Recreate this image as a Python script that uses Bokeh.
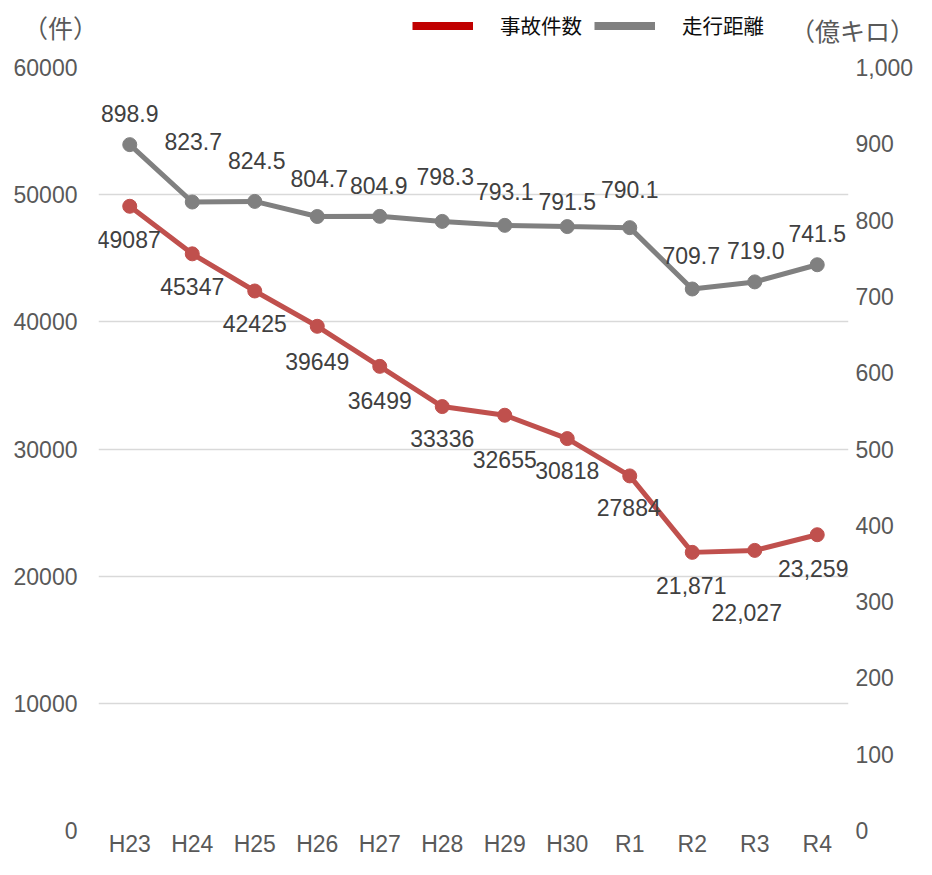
from bokeh.plotting import figure
from bokeh.layouts import column, row
from bokeh.models import (Range1d, LinearAxis, FixedTicker, NumeralTickFormatter,
                          Legend, LegendItem, ColumnDataSource)
from bokeh.core.properties import value
from bokeh.embed import file_html
from bokeh.resources import INLINE

# ---- data ----
categories = ["H23", "H24", "H25", "H26", "H27", "H28", "H29", "H30", "R1", "R2", "R3", "R4"]
accidents = [49087, 45347, 42425, 39649, 36499, 33336, 32655, 30818, 27884, 21871, 22027, 23259]
distance = [898.9, 823.7, 824.5, 804.7, 804.9, 798.3, 793.1, 791.5, 790.1, 709.7, 719.0, 741.5]
left_ticks = [0, 10000, 20000, 30000, 40000, 50000, 60000]
right_ticks = [0, 100, 200, 300, 400, 500, 600, 700, 800, 900, 1000]
series_names = ["事故件数", "走行距離"]
unit_left = "（件）"
unit_right = "（億キロ）"

# ---- label placement (style, px offsets) ----
acc_dx = [-1, 0, 0, 0, 0, 0, 0, 0, -1, -1, -8, -4]
acc_dy = [33, 33, 33, 35, 34, 32, 44, 32, 32, 33, 62, 34]
dist_dx = [0, 1, 2, 2, -1, 3, 0, 0, 0, -1, 1, 0]
dist_dy = [-31, -61, -41, -38, -31, -45, -34, -25, -38, -33, -31, -31]

RED = "#C0504D"
RED_LEG = "#C00000"
GRAY = "#808080"
TICK = "#595959"
LBL = "#404040"
FONT = "Liberation Sans"
CJK = "Noto Sans CJK JP"

W = 916
HEAD_H = 53

xs = list(range(len(categories)))
acc_text = [f"{v:,}" if i >= 9 else str(v) for i, v in enumerate(accidents)]
dist_text = [f"{v:.1f}" for v in distance]

# ---------------- header strip: units + legend ----------------
h = figure(width=W, height=HEAD_H, x_range=Range1d(0, W), y_range=Range1d(HEAD_H, 0),
           x_axis_type=None, y_axis_type=None,
           output_backend="svg", toolbar_location=None,
           min_border_left=0, min_border_right=0, min_border_top=0, min_border_bottom=0)
h.grid.visible = False
h.outline_line_color = None
h.background_fill_color = "white"

h.text(x=[60], y=[26], text=[unit_left], text_align="center", text_baseline="middle",
       text_font=value(CJK), text_font_size="25px", text_color=TICK)
h.text(x=[852], y=[29], text=[unit_right], text_align="center", text_baseline="middle",
       text_font=value(CJK), text_font_size="25px", text_color=TICK)

r1 = h.line([-200, -100], [-100, -100], color=RED_LEG, line_width=8)
r2 = h.line([-200, -100], [-100, -100], color=GRAY, line_width=8)
legend = Legend(items=[LegendItem(label=series_names[0], renderers=[r1]),
                       LegendItem(label=series_names[1], renderers=[r2])],
                orientation="horizontal", location=(412, 13),
                glyph_width=61, glyph_height=25, label_height=25,
                label_standoff=27, spacing=12, padding=0, margin=0,
                border_line_color=None, background_fill_alpha=0,
                label_text_font=CJK, label_text_font_size="20.5px",
                label_text_color="#0d0d0d")
h.add_layout(legend)

# ---------------- main chart ----------------
p = figure(width=W, height=859 - HEAD_H, x_range=Range1d(-0.5, len(categories) - 0.5),
           y_range=Range1d(0, 60000), output_backend="svg", toolbar_location=None,
           min_border_left=98, min_border_right=68, min_border_top=14, min_border_bottom=26)
p.extra_y_ranges = {"km": Range1d(0, 1000)}
p.outline_line_color = None
p.background_fill_color = "white"

p.xgrid.visible = False
p.ygrid.ticker = FixedTicker(ticks=left_ticks)
p.ygrid.grid_line_color = "#D9D9D9"
p.ygrid.grid_line_width = 1.6


def style_axis(ax, standoff):
    ax.axis_line_color = None
    ax.major_tick_line_color = None
    ax.minor_tick_line_color = None
    ax.major_tick_out = 0
    ax.major_tick_in = 0
    ax.minor_tick_out = 0
    ax.minor_tick_in = 0
    ax.major_label_standoff = standoff
    ax.major_label_text_font = FONT
    ax.major_label_text_font_size = "23px"
    ax.major_label_text_color = TICK


xa = p.xaxis[0]
xa.ticker = FixedTicker(ticks=xs)
xa.major_label_overrides = {i: c for i, c in enumerate(categories)}
style_axis(xa, 0)

ya = p.yaxis[0]
ya.ticker = FixedTicker(ticks=left_ticks)
ya.formatter = NumeralTickFormatter(format="0")
style_axis(ya, 21)

ra = LinearAxis(y_range_name="km", ticker=FixedTicker(ticks=right_ticks),
                formatter=NumeralTickFormatter(format="0,0"))
style_axis(ra, 7)
p.add_layout(ra, "right")

# series
p.line(xs, distance, color=GRAY, line_width=5, y_range_name="km")
p.scatter(xs, distance, size=14, color=GRAY, y_range_name="km")
p.line(xs, accidents, color=RED, line_width=5)
p.scatter(xs, accidents, size=14, color=RED)

# data labels
src_a = ColumnDataSource(dict(x=xs, y=accidents, t=acc_text, dx=acc_dx, dy=acc_dy))
src_d = ColumnDataSource(dict(x=xs, y=distance, t=dist_text, dx=dist_dx, dy=dist_dy))
p.text(x="x", y="y", text="t", x_offset="dx", y_offset="dy", source=src_a,
       text_align="center", text_baseline="middle", text_font=value(FONT),
       text_font_size="23px", text_color=LBL)
p.text(x="x", y="y", text="t", x_offset="dx", y_offset="dy", source=src_d,
       y_range_name="km", text_align="center", text_baseline="middle",
       text_font=value(FONT), text_font_size="23px", text_color=LBL)

open("out.html", "w").write(file_html(column(row(h), p, spacing=0), INLINE))
